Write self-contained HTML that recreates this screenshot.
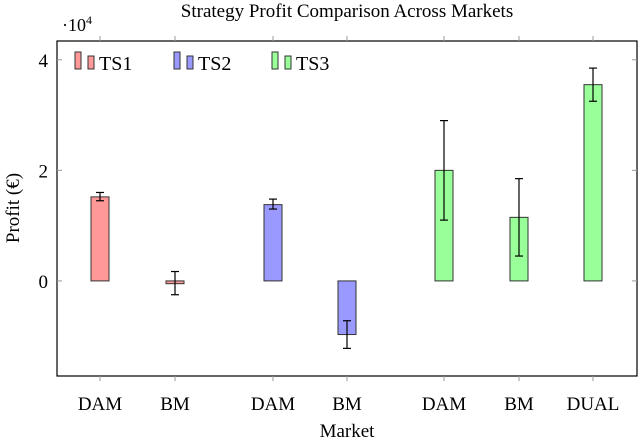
<!DOCTYPE html>
<html><head><meta charset="utf-8"><style>
body{margin:0;background:#fff;}
svg{display:block;font-family:"Liberation Serif",serif;}
</style></head><body>
<svg id="chart" width="640" height="439"></svg>
<script>
const categories=["DAM","BM","DAM","BM","DAM","BM","DUAL"];
const series=["TS1","TS1","TS2","TS2","TS3","TS3","TS3"];
const values=[1.52,-0.05,1.38,-0.97,2.0,1.15,3.55];
const errLow=[1.45,-0.25,1.30,-1.22,1.10,0.45,3.25];
const errHigh=[1.60,0.17,1.48,-0.72,2.90,1.85,3.85];
const yTicks=[0,2,4];
const seriesNames=["TS1","TS2","TS3"];
const colors={TS1:"#ff9999",TS2:"#9999ff",TS3:"#99ff99"};
const xPos=[100,175,273,347,444,519,593];
const L=57,R=637,T=41,B=376,ymin=-1.72,ymax=4.34;
const y=v=>B-(v-ymin)/(ymax-ymin)*(B-T);
const svg=document.getElementById('chart');
const NS="http://www.w3.org/2000/svg";
function mk(tag,attrs,parent){const e=document.createElementNS(NS,tag);for(const k in attrs)e.setAttribute(k,attrs[k]);(parent||svg).appendChild(e);return e;}
let fr=mk('rect',{x:L,y:T,width:R-L,height:B-T,fill:'none',stroke:'#000','stroke-width':1.2});


yTicks.forEach(t=>{
  let g=mk('g',{});
  
  
  mk('line',{x1:L,x2:L+5,y1:y(t),y2:y(t),stroke:'#999'},g);
  mk('line',{x1:R-5,x2:R,y1:y(t),y2:y(t),stroke:'#999'},g);
  let tx=mk('text',{x:L-9,y:y(t)+7,'text-anchor':'end','font-size':19},g);tx.textContent=t;
});
categories.forEach((c,i)=>{
  const x=xPos[i];
  let g=mk('g',{});
  
  
  mk('line',{x1:x,x2:x,y1:B,y2:B+5,stroke:'#999'},g);
  mk('line',{x1:x,x2:x,y1:T-5,y2:T,stroke:'#999'},g);
  let tx=mk('text',{x:x,y:410,'text-anchor':'middle','font-size':19},g);tx.textContent=c;
  const v=values[i];
  let b=mk('rect',{x:x-9,y:Math.min(y(0),y(v)),width:18,height:Math.max(Math.abs(y(v)-y(0)),1.5),fill:colors[series[i]],stroke:'#333','stroke-width':1});
  
  
  let e=mk('g',{stroke:'#000','stroke-width':1.2});
  
  
  mk('line',{x1:x,x2:x,y1:y(errLow[i]),y2:y(errHigh[i])},e);
  mk('line',{x1:x-4,x2:x+4,y1:y(errLow[i]),y2:y(errLow[i])},e);
  mk('line',{x1:x-4,x2:x+4,y1:y(errHigh[i]),y2:y(errHigh[i])},e);
});
const legX=[75,174,272];
seriesNames.forEach((s,i)=>{
  let g=mk('g',{});
  
  
  mk('rect',{x:legX[i],y:52,width:6,height:17,fill:colors[s],stroke:'#333'},g);
  mk('rect',{x:legX[i]+13,y:56,width:6,height:13,fill:colors[s],stroke:'#333'},g);
  let t=mk('text',{x:legX[i]+24,y:70,'font-size':20},g);t.textContent=s;
});
let ti=mk('text',{x:347,y:17,'text-anchor':'middle','font-size':19});ti.textContent="Strategy Profit Comparison Across Markets";

let ex=mk('text',{x:62,y:31,'font-size':18});ex.innerHTML='·10<tspan dy="-7" font-size="12">4</tspan>';

let xl=mk('text',{x:347,y:437,'text-anchor':'middle','font-size':19});xl.textContent="Market";

let yl=mk('text',{x:0,y:0,'text-anchor':'middle','font-size':19,transform:'translate(19,208) rotate(-90)'});yl.textContent="Profit (€)";

</script>
</body></html>
